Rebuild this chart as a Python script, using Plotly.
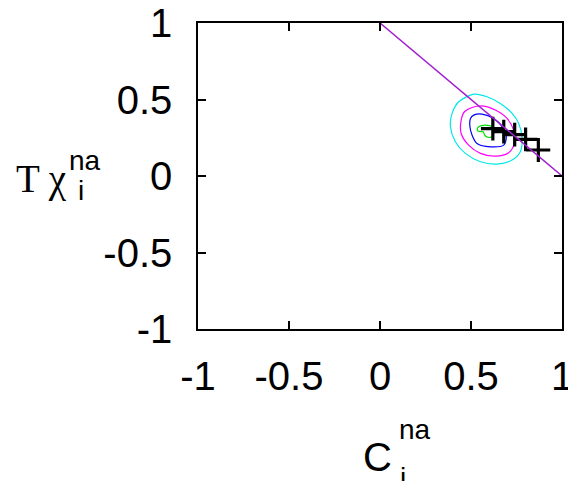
import plotly.graph_objects as go

# ---- data ----
diag_x = [0.0, 1.0]
diag_y = [1.0, 0.0]

cyan_x = [0.515, 0.588, 0.661, 0.726, 0.762, 0.780, 0.771, 0.726, 0.643, 0.552, 0.469, 0.414, 0.387, 0.396, 0.433, 0.515]
cyan_y = [0.535, 0.518, 0.474, 0.409, 0.344, 0.256, 0.158, 0.104, 0.078, 0.093, 0.148, 0.224, 0.322, 0.409, 0.485, 0.535]

mag_x = [0.506, 0.570, 0.634, 0.698, 0.734, 0.738, 0.707, 0.634, 0.552, 0.487, 0.446, 0.446, 0.464, 0.506]
mag_y = [0.448, 0.457, 0.431, 0.376, 0.300, 0.213, 0.152, 0.130, 0.148, 0.202, 0.278, 0.365, 0.420, 0.448]

blue_x = [0.515, 0.561, 0.625, 0.671, 0.694, 0.680, 0.606, 0.533, 0.506, 0.493, 0.497, 0.515]
blue_y = [0.398, 0.405, 0.376, 0.322, 0.256, 0.202, 0.191, 0.213, 0.267, 0.333, 0.376, 0.398]

green_x = [0.542, 0.579, 0.616, 0.625, 0.606, 0.579, 0.566, 0.537, 0.535, 0.542]
green_y = [0.322, 0.333, 0.322, 0.278, 0.252, 0.261, 0.289, 0.295, 0.310, 0.322]

pts_x = [0.62, 0.68, 0.74, 0.80, 0.87]
pts_y = [0.31, 0.29, 0.27, 0.24, 0.17]

tick_vals = [-1, -0.5, 0, 0.5, 1]
tick_text = ["-1", "-0.5", "0", "0.5", "1"]

fig = go.Figure()
for xs, ys, col in [(cyan_x, cyan_y, "#00e8e8"), (mag_x, mag_y, "#ff00ff"),
                    (blue_x, blue_y, "#0000ff"), (green_x, green_y, "#00e000")]:
    fig.add_trace(go.Scatter(x=xs, y=ys, mode="lines",
                             line=dict(color=col, width=1.2, shape="spline", smoothing=0.8),
                             showlegend=False, hoverinfo="skip"))

fig.add_trace(go.Scatter(x=pts_x, y=pts_y, mode="markers",
                         marker=dict(symbol="cross-thin", size=17,
                                     line=dict(color="black", width=3.2)),
                         showlegend=False))
fig.add_trace(go.Scatter(x=diag_x, y=diag_y, mode="lines",
                         line=dict(color="#a020d0", width=1.5), showlegend=False))

axis_common = dict(range=[-1, 1], tickvals=tick_vals, ticktext=tick_text,
                   ticks="inside", ticklen=8, tickwidth=1.5, tickcolor="black",
                   showline=True, linecolor="black", linewidth=1.5, mirror="ticks",
                   showgrid=False, zeroline=False, automargin=False,
                   ticklabeloverflow="allow",
                   tickfont=dict(family="Liberation Sans, Arial", size=40, color="black"))

fig.update_xaxes(**axis_common, ticklabelstandoff=11)
fig.update_yaxes(**axis_common, ticklabelstandoff=16)

# pixel positions (screenshot coords) -> paper coords of the plot area
def px_to_paper(px, py):
    return (px - 197.5) / 364.5, (329 - py) / 306.3

annots = [
    ("T χ", 41, 179, "Liberation Serif, Times New Roman", 39),
    ("na", 84, 160, "Liberation Sans, Arial", 28),
    ("i", 80, 190, "Liberation Sans, Arial", 28),
    ("C", 377, 457, "Liberation Sans, Arial", 40),
    ("na", 415, 430, "Liberation Sans, Arial", 28),
    ("i", 403, 478, "Liberation Sans, Arial", 28),
]
for txt, px, py, fam, sz in annots:
    ax_, ay_ = px_to_paper(px, py)
    fig.add_annotation(text=txt, x=ax_, y=ay_, xref="paper", yref="paper",
                       showarrow=False, xanchor="center", yanchor="middle",
                       font=dict(family=fam, size=sz, color="black"))

# page body has an 8px margin, so the figure is offset by 8px
fig.update_layout(width=568, height=473, margin=dict(l=189.5, r=14, t=14.7, b=152),
                  plot_bgcolor="white", paper_bgcolor="white")

fig.write_html("out.html")
